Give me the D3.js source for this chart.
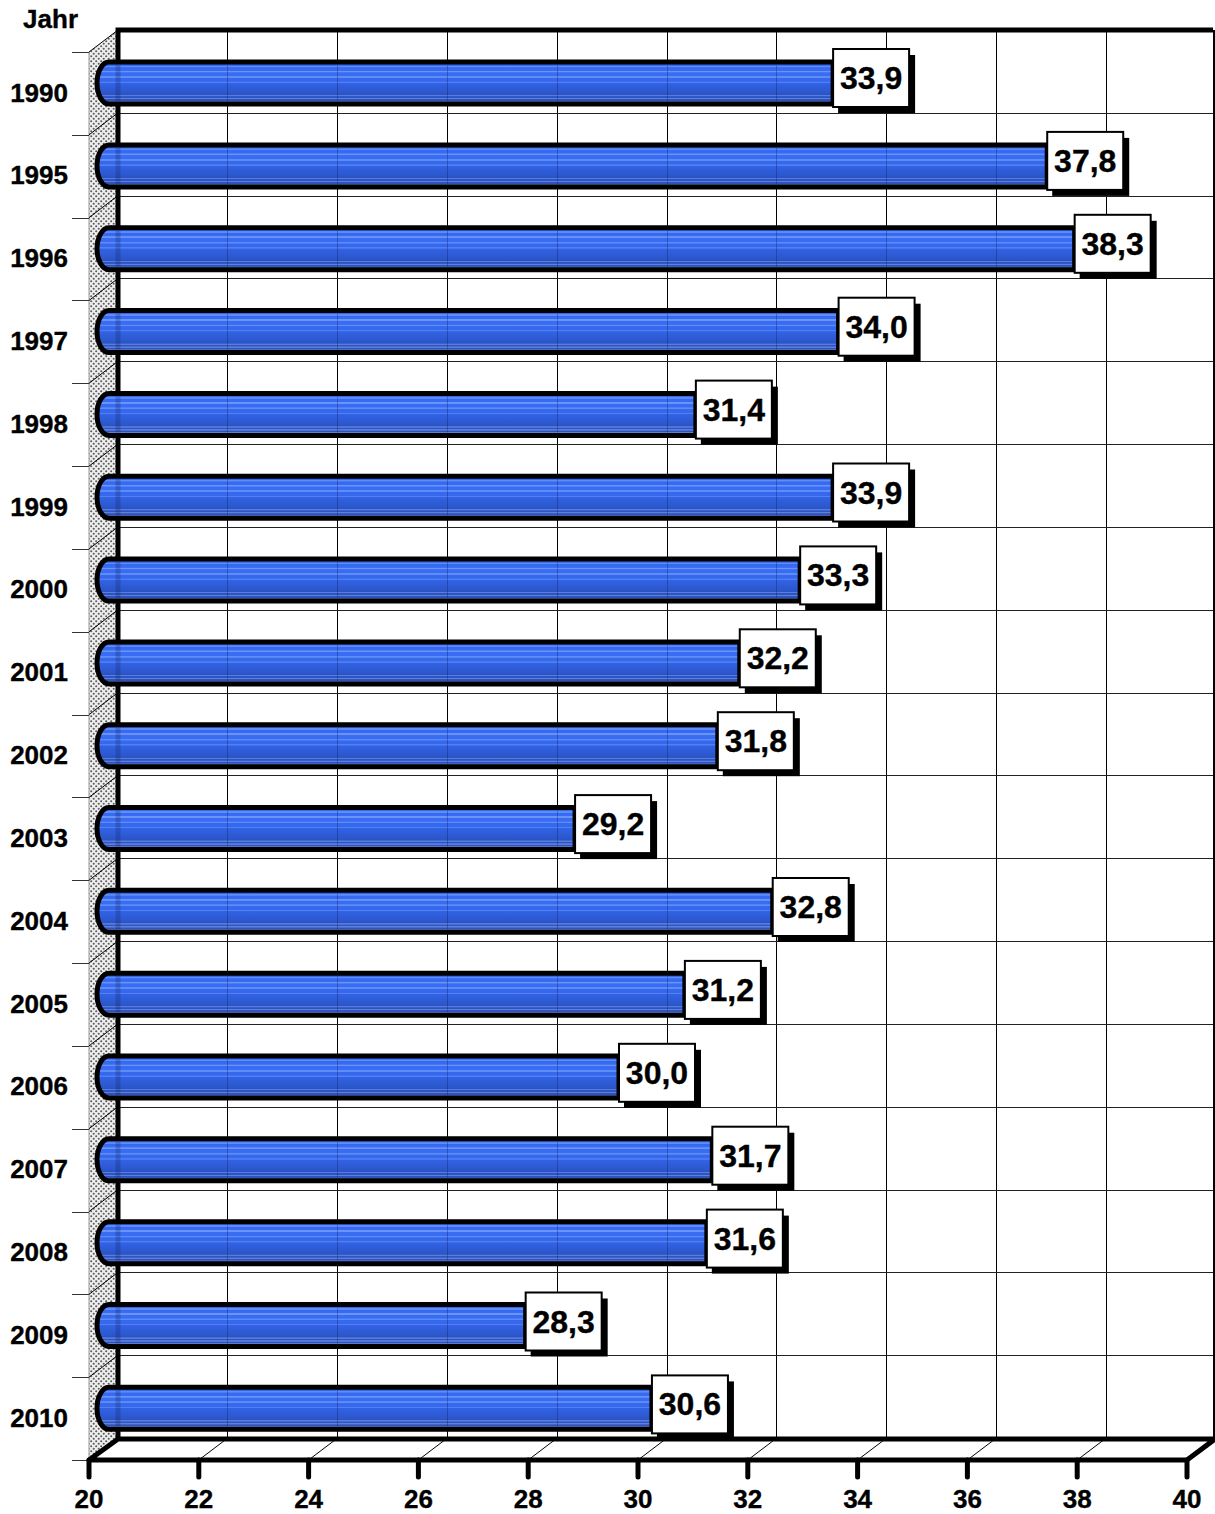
<!DOCTYPE html>
<html><head><meta charset="utf-8"><script src="https://cdn.jsdelivr.net/npm/d3@7"></script>
<style>html,body{margin:0;background:#fff}svg{display:block}text{font-family:"Liberation Sans",Arial,sans-serif;font-weight:bold;fill:#000;stroke:#000;stroke-width:.35px}</style></head>
<body><div id="c"></div><script>
const years=["1990","1995","1996","1997","1998","1999","2000","2001","2002","2003","2004","2005","2006","2007","2008","2009","2010"];
const values=[33.9,37.8,38.3,34.0,31.4,33.9,33.3,32.2,31.8,29.2,32.8,31.2,30.0,31.7,31.6,28.3,30.6];
const xTicks=[20,22,24,26,28,30,32,34,36,38,40];
const W=1215,H=1514,dx=29,dy=-22;
const x=d3.scaleLinear().domain([20,40]).range([89,1187]);
const y=d3.scaleBand().domain(years).range([52,1460]);
const yLabel=d3.scaleBand().domain(years).range([49,1458.3]);
const crisp=v=>Math.round(v)+.5;
const gridX=d=>Math.floor(x(d)+dx)+.5;
const fmt=v=>v.toFixed(1).replace(".",",");
const svg=d3.select("#c").append("svg").attr("width",W).attr("height",H);
const defs=svg.append("defs");
const pat=defs.append("pattern").attr("id","dots").attr("width",5).attr("height",5).attr("patternUnits","userSpaceOnUse");
pat.append("rect").attr("width",5).attr("height",5).attr("fill","#eeeeee");
pat.append("circle").attr("cx",1.2).attr("cy",1.2).attr("r",1.05).attr("fill","#5c5c5c");
pat.append("circle").attr("cx",3.7).attr("cy",3.7).attr("r",1.05).attr("fill","#5c5c5c");
const stops=[[0,"#2f62ea"],[.08,"#3468f0"],[.09,"#5f8cf6"],[.12,"#5f8cf6"],[.13,"#3468f0"],[.2,"#386cf2"],[.21,"#6c94f8"],[.24,"#6c94f8"],[.25,"#386cf2"],[.33,"#386cf2"],[.34,"#5f8cf6"],[.37,"#5f8cf6"],[.38,"#3668ee"],[.46,"#3668ee"],[.47,"#5280f0"],[.49,"#5280f0"],[.5,"#3262e6"],[.72,"#2c58cc"],[.78,"#2a52c4"],[.79,"#5a7cdc"],[.81,"#5a7cdc"],[.82,"#2c54c2"],[.85,"#2c54c2"],[.86,"#5f80dc"],[.88,"#5f80dc"],[.89,"#2c52bc"],[.92,"#2c52bc"],[.93,"#5f7ed8"],[.95,"#5f7ed8"],[.96,"#2a4eb4"],[1,"#2a4eb4"]];
const g=defs.append("linearGradient").attr("id","bar").attr("x1",0).attr("x2",0).attr("y1",0).attr("y2",1);
g.selectAll("stop").data(stops).join("stop").attr("offset",d=>d[0]).attr("stop-color",d=>d[1]);
// side wall
svg.append("path").attr("d",`M${x(20)},${y.range()[0]}L${x(20)+dx},${y.range()[0]+dy}V${y.range()[1]+dy}L${x(20)},${y.range()[1]}Z`).attr("fill","url(#dots)");
svg.append("line").attr("x1",x(20)).attr("x2",x(20)).attr("y1",52).attr("y2",1460).attr("stroke","#999");
// grid
const grid=svg.append("g").attr("stroke","#000").attr("stroke-width",1);
const innerTicks=xTicks.slice(1,-1);
grid.selectAll(".v").data(innerTicks).join("line").attr("x1",gridX).attr("x2",gridX).attr("y1",52+dy).attr("y2",1460+dy);
grid.selectAll(".vf").data(innerTicks).join("line").attr("x1",d=>x(d)).attr("x2",d=>x(d)+dx).attr("y1",1460).attr("y2",1460+dy);
const bounds=years.slice(1).map(d=>y(d));
grid.selectAll(".h").data(bounds).join("line").attr("x1",x(20)+dx).attr("x2",1215).attr("y1",d=>crisp(d+dy)).attr("y2",d=>crisp(d+dy)).attr("stroke","#222");
grid.selectAll(".hs").data(bounds).join("line").attr("x1",x(20)).attr("x2",x(20)+dx).attr("y1",d=>d).attr("y2",d=>d+dy);
grid.selectAll(".ht").data([...years.map(d=>y(d)),1460]).join("line").attr("x1",72).attr("x2",x(20)).attr("y1",d=>crisp(d)).attr("y2",d=>crisp(d)).attr("stroke","#333");
// frame
const fr=svg.append("g").attr("stroke","#000").attr("fill","none");
fr.append("path").attr("d",`M${x(20)},52L${x(20)+dx},30`).attr("stroke-width",1);
fr.append("path").attr("d",`M${x(20)+dx},1438V30H1213`).attr("stroke-width",5);
fr.append("line").attr("x1",1214).attr("x2",1214).attr("y1",30).attr("y2",1438).attr("stroke-width",2);
fr.append("path").attr("d",`M${x(20)+dx},1439H1215L${x(40)},1460H${x(20)}Z`).attr("stroke-width",5).attr("stroke-linejoin","round");
fr.selectAll(".t").data(xTicks).join("line").attr("x1",d=>x(d)).attr("x2",d=>x(d)).attr("y1",1460).attr("y2",1477).attr("stroke-width",5).attr("stroke-linecap","round");
// bars
const bh=42, off=-19, cap=12;
const rows=svg.append("g").selectAll("g").data(years).join("g");
rows.each(function(d,i){
 const cy=y(d)+y.bandwidth()/2-10.3, x1=x(values[i])+off;
 const b=d3.select(this);
 b.append("path").attr("d",`M${x1},${cy-bh/2}H${97+cap}A${cap},${bh/2} 0 0 0 ${97+cap},${cy+bh/2}H${x1}Z`)
  .attr("fill","url(#bar)").attr("stroke","#000").attr("stroke-width",5);
 // frame and grid showing through the striped bar
 b.append("rect").attr("x",115.5).attr("y",cy-bh/2+3).attr("width",5).attr("height",bh-6).attr("fill","#10205a").attr("opacity",.25);
 b.selectAll(".gt").data(innerTicks.filter(t=>gridX(t)<x1)).join("line").attr("x1",gridX).attr("x2",gridX).attr("y1",cy-bh/2+3).attr("y2",cy+bh/2-3).attr("stroke","#10205a").attr("opacity",.35);
 const lx=x1, ly=yLabel(d), lw=76, lh=58;
 b.append("rect").attr("x",lx+5).attr("y",ly+6).attr("width",lw+1).attr("height",lh).attr("fill","#000");
 b.append("rect").attr("x",lx).attr("y",ly).attr("width",lw).attr("height",lh).attr("fill","#fff").attr("stroke","#000").attr("stroke-width",2);
 b.append("text").attr("x",lx+lw/2).attr("y",ly+40).attr("text-anchor","middle").attr("font-size",32).text(fmt(values[i]));
 b.append("text").attr("x",68).attr("y",y(d)+49.5).attr("text-anchor","end").attr("font-size",26).text(d);
});
svg.append("g").selectAll("text").data(xTicks).join("text").attr("x",d=>x(d)).attr("y",1508).attr("text-anchor","middle").attr("font-size",26).text(d=>d);
svg.append("text").attr("x",78).attr("y",28).attr("text-anchor","end").attr("font-size",26).text("Jahr");
</script></body></html>
